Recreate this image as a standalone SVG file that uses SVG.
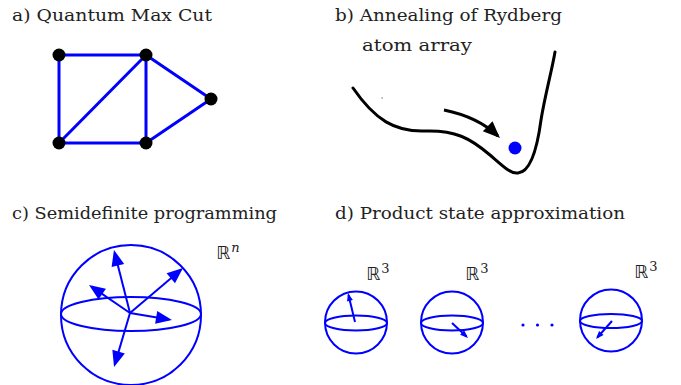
<svg xmlns="http://www.w3.org/2000/svg" width="681" height="385" viewBox="0 0 681 385">
<style>
.t{font-family:'DejaVu Serif',serif;font-size:17px;fill:#222}
.bb{font-family:'DejaVu Sans',sans-serif;font-size:18px;fill:#222}
.sup{font-family:'DejaVu Serif',serif;font-size:13px;fill:#222}
.edge{stroke:#0000ff;stroke-width:3;fill:none;stroke-linecap:round}
.node{fill:#000}
.sph{stroke:#0000ff;stroke-width:2;fill:none}
.vec{stroke:#0000ff;stroke-width:2;fill:none}
</style>
<defs>
<marker id="big" markerUnits="userSpaceOnUse" orient="auto" refX="0" refY="0" markerWidth="20" markerHeight="20" overflow="visible"><path d="M3,0 L-13,-6.5 L-13,6.5 Z" fill="#0000ff"/></marker>
<marker id="small" markerUnits="userSpaceOnUse" orient="auto" refX="0" refY="0" markerWidth="10" markerHeight="10" overflow="visible"><path d="M2,0 L-6,-3 L-6,3 Z" fill="#0000ff"/></marker>
<marker id="blk" markerUnits="userSpaceOnUse" orient="auto" refX="0" refY="0" markerWidth="20" markerHeight="20" overflow="visible"><path d="M3,0 L-14,-7 L-14,7 Z" fill="#000"/></marker>
</defs>

<!-- titles -->
<text class="t" x="12" y="21" textLength="200" lengthAdjust="spacingAndGlyphs">a) Quantum Max Cut</text>
<text class="t" x="335" y="21" textLength="227" lengthAdjust="spacingAndGlyphs">b) Annealing of Rydberg</text>
<text class="t" x="362" y="51" textLength="110" lengthAdjust="spacingAndGlyphs">atom array</text>
<text class="t" x="12" y="219" textLength="265" lengthAdjust="spacingAndGlyphs">c) Semidefinite programming</text>
<text class="t" x="335" y="219" textLength="290" lengthAdjust="spacingAndGlyphs">d) Product state approximation</text>

<!-- panel a: graph -->
<g id="connectors">
<line class="edge" x1="59" y1="55" x2="146" y2="55"/>
<line class="edge" x1="59" y1="55" x2="59" y2="143"/>
<line class="edge" x1="59" y1="143" x2="146" y2="55"/>
<line class="edge" x1="146" y1="55" x2="146" y2="143"/>
<line class="edge" x1="146" y1="55" x2="211" y2="99"/>
<line class="edge" x1="59" y1="143" x2="146" y2="143"/>
<line class="edge" x1="146" y1="143" x2="211" y2="99"/>
</g>
<g id="n1"><circle class="node" cx="59" cy="55" r="6.5"/></g>
<g id="n2"><circle class="node" cx="146" cy="55" r="6.5"/></g>
<g id="n3"><circle class="node" cx="211" cy="99" r="6.5"/></g>
<g id="n4"><circle class="node" cx="59" cy="143" r="6.5"/></g>
<g id="n5"><circle class="node" cx="146" cy="143" r="6.5"/></g>

<!-- panel b: energy landscape -->
<g id="landscape">
<path d="M353,88 C375,120 395,132 425,131 C455,130 470,138 490,155 C505,168 511,174 518,173 C530,172 537,150 541,120 C545,95 552,70 555,52" fill="none" stroke="#000" stroke-width="3" stroke-linecap="round"/>
<path d="M444,110 Q478,117 497.8,135.9" fill="none" stroke="#000" stroke-width="3" marker-end="url(#blk)"/>
<circle cx="515" cy="148" r="6.5" fill="#0000ff"/>
<rect x="381.5" y="97.5" width="1.2" height="1" fill="#444"/>
</g>

<!-- panel c: big sphere -->
<g id="sdp">
<circle class="sph" cx="131" cy="315" r="70"/>
<ellipse class="sph" cx="131" cy="314" rx="70" ry="17"/>
<line class="vec" x1="130" y1="313" x2="114.7" y2="252.9" marker-end="url(#big)"/>
<line class="vec" x1="130" y1="313" x2="180.7" y2="269.9" marker-end="url(#big)"/>
<line class="vec" x1="130" y1="313" x2="91.5" y2="286.7" marker-end="url(#big)"/>
<line class="vec" x1="130" y1="313" x2="169" y2="319.5" marker-end="url(#big)"/>
<line class="vec" x1="130" y1="313" x2="114.9" y2="364.1" marker-end="url(#big)"/>
<text class="bb" x="216" y="259">ℝ<tspan class="sup" font-style="italic" dx="1" dy="-7">n</tspan></text>
</g>

<!-- panel d: product states -->
<g id="s1">
<circle class="sph" cx="356" cy="322.5" r="31"/>
<ellipse class="sph" cx="356" cy="323" rx="31" ry="7.5"/>
<line class="vec" x1="355" y1="322" x2="348.5" y2="294.9" marker-end="url(#small)"/>
<text class="bb" x="366" y="280">ℝ<tspan class="sup" dx="1" dy="-7">3</tspan></text>
</g>
<g id="s2">
<circle class="sph" cx="452" cy="322.5" r="31"/>
<ellipse class="sph" cx="452" cy="323" rx="31" ry="7.5"/>
<line class="vec" x1="452" y1="323" x2="466.5" y2="336.6" marker-end="url(#small)"/>
<text class="bb" x="465" y="280">ℝ<tspan class="sup" dx="1" dy="-7">3</tspan></text>
</g>
<g id="dots">
<circle cx="523" cy="325" r="1.6" fill="#0000ff"/>
<circle cx="537.5" cy="325" r="1.6" fill="#0000ff"/>
<circle cx="552" cy="325" r="1.6" fill="#0000ff"/>
</g>
<g id="s3">
<circle class="sph" cx="611" cy="320.5" r="31"/>
<ellipse class="sph" cx="611" cy="321" rx="31" ry="7"/>
<line class="vec" x1="612" y1="321" x2="597.3" y2="337.5" marker-end="url(#small)"/>
<text class="bb" x="634" y="278">ℝ<tspan class="sup" dx="1" dy="-7">3</tspan></text>
</g>
</svg>
